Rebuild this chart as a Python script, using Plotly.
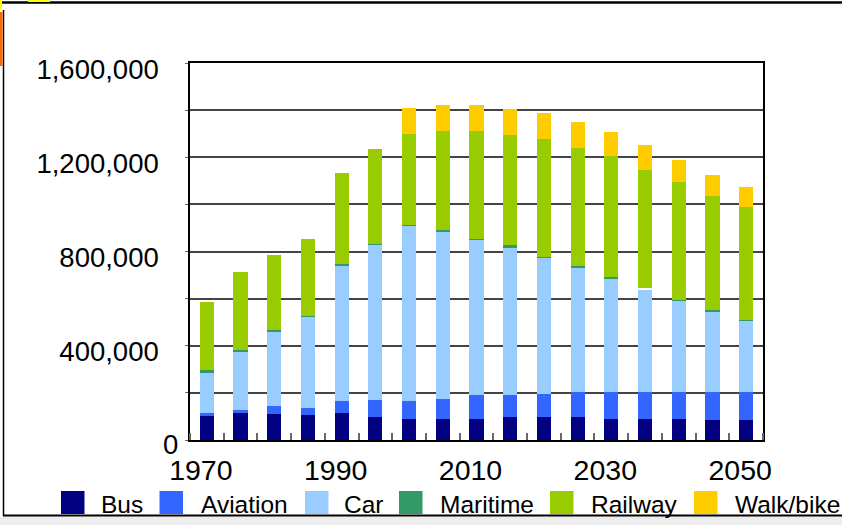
import plotly.graph_objects as go

years = [1970, 1975, 1980, 1985, 1990, 1995, 2000, 2005, 2010, 2015, 2020, 2025, 2030, 2035, 2040, 2045, 2050]
bus = [106000, 115000, 111000, 106000, 115000, 98000, 89000, 89000, 89000, 98000, 98000, 98000, 89000, 89000, 89000, 85000, 85000]
aviation = [8000, 13000, 34000, 30000, 51000, 72000, 77000, 85000, 102000, 94000, 98000, 106000, 115000, 115000, 115000, 119000, 119000]
car = [174000, 247000, 315000, 387000, 576000, 660000, 745000, 711000, 660000, 626000, 579000, 528000, 481000, 434000, 386000, 340000, 302000]
maritime = [8000, 8000, 8000, 4000, 4000, 3000, 3000, 8000, 4000, 8000, 3000, 8000, 8000, 8000, 3000, 8000, 3000]
railway = [289000, 328000, 319000, 328000, 386000, 404000, 383000, 417000, 455000, 468000, 498000, 498000, 511000, 502000, 502000, 485000, 481000]
walkbike = [0, 0, 0, 0, 0, 0, 111000, 111000, 111000, 111000, 111000, 111000, 102000, 102000, 94000, 89000, 85000]

series_names = ["Bus", "Aviation", "Car", "Maritime", "Railway", "Walk/bike"]
series_values = [bus, aviation, car, maritime, railway, walkbike]
series_colors = ["#000080", "#3366FF", "#99CCFF", "#339966", "#99CC00", "#FFCC00"]

x_tick_vals = [1970, 1990, 2010, 2030, 2050]
y_tick_vals = [0, 200000, 400000, 600000, 800000, 1000000, 1200000, 1400000, 1600000]
y_tick_text = ["", "", "400,000", "", "800,000", "", "1,200,000", "", "1,600,000"]

FONT = "Arial, Liberation Sans, sans-serif"
W, H = 842, 525
L, R, T, B = 190, 79, 63, 85
PW, PH = W - L - R, H - T - B


def px(xp):
    return (xp - L) / PW


def py(yp):
    return (H - B - yp) / PH


fig = go.Figure()
for name, vals, col in zip(series_names, series_values, series_colors):
    colors = col
    if name == "Maritime":
        colors = [col] * len(vals)
        colors[years.index(2035)] = "#FFFFFF"
    fig.add_trace(go.Bar(
        x=years, y=vals, name=name, width=2.1,
        marker=dict(color=colors, line=dict(width=0)),
        showlegend=False,
    ))

shapes = []
annotations = []

# manual legend
legend_pos = [(61, 101), (159.5, 201), (305, 344), (399, 440), (550, 591), (694, 735)]
for (sx, tx), name, col in zip(legend_pos, series_names, series_colors):
    shapes.append(dict(type="rect", xref="paper", yref="paper",
                       x0=px(sx), x1=px(sx + 23.5), y0=py(491), y1=py(514),
                       fillcolor=col, line=dict(width=0)))
    annotations.append(dict(xref="paper", yref="paper", x=px(tx - 2), y=py(504),
                            xanchor="left", yanchor="middle", showarrow=False,
                            text=name, font=dict(family=FONT, size=24.5, color="black")))

# "0" label
annotations.append(dict(xref="paper", yref="paper", x=px(180), y=py(445),
                        xanchor="right", yanchor="middle", showarrow=False,
                        text="0", font=dict(family=FONT, size=27.5, color="black")))

# outer frame pieces
shapes += [
    dict(type="rect", xref="paper", yref="paper", x0=px(0), x1=px(W), y0=py(516.5), y1=py(H),
         fillcolor="#EDEDED", line=dict(width=0), layer="below"),
    dict(type="line", xref="paper", yref="paper", x0=px(3), x1=px(W), y0=py(515.5), y1=py(515.5),
         line=dict(color="black", width=2)),
    dict(type="line", xref="paper", yref="paper", x0=px(3.5), x1=px(3.5), y0=py(10), y1=py(516),
         line=dict(color="black", width=1.5)),
    dict(type="line", xref="paper", yref="paper", x0=px(0), x1=px(W), y0=py(2.5), y1=py(2.5),
         line=dict(color="black", width=2.5)),
    dict(type="rect", xref="paper", yref="paper", x0=px(0), x1=px(2.5), y0=py(12), y1=py(66),
         fillcolor="#FF6600", line=dict(width=0)),
    dict(type="rect", xref="paper", yref="paper", x0=px(28), x1=px(50), y0=py(0), y1=py(2),
         fillcolor="#FFFF00", line=dict(width=0)),
    dict(type="rect", xref="paper", yref="paper", x0=px(0), x1=px(2), y0=py(0), y1=py(9),
         fillcolor="#FFFF00", line=dict(width=0)),
]

fig.update_layout(
    width=W, height=H, autosize=False,
    margin=dict(l=L, r=R, t=T, b=B, pad=0),
    barmode="stack",
    paper_bgcolor="white", plot_bgcolor="white",
    font=dict(family=FONT, size=28, color="black"),
    shapes=shapes, annotations=annotations,
    showlegend=False,
)
fig.update_xaxes(
    type="linear", range=[1967.5, 2052.5],
    tickmode="array", tickvals=x_tick_vals, ticktext=[str(v) for v in x_tick_vals],
    ticks="", showgrid=False, zeroline=False,
    showline=True, linecolor="black", linewidth=1.5, mirror=True,
    tickfont=dict(family=FONT, size=28.5, color="black"),
    ticklabelshift=-6, ticklabelstandoff=4,
    minor=dict(tickmode="linear", tick0=1972.5, dtick=5, ticks="inside",
               ticklen=7, tickwidth=1.5, tickcolor="#666666", showgrid=False),
)
fig.update_yaxes(
    range=[0, 1600000], tickmode="array", tickvals=y_tick_vals, ticktext=y_tick_text,
    showgrid=True, gridcolor="#444444", gridwidth=1.5, zeroline=False,
    showline=True, linecolor="black", linewidth=1.5, mirror=True,
    ticks="outside", ticklen=3, tickcolor="#666666",
    tickfont=dict(family=FONT, size=27.5, color="black"),
    ticklabelshift=6, ticklabelstandoff=21,
)

fig.write_html(
    "out.html",
    config={"displayModeBar": False},
    post_script="document.body.style.margin='0';document.body.style.padding='0';"
                "document.body.style.overflow='hidden';",
)
